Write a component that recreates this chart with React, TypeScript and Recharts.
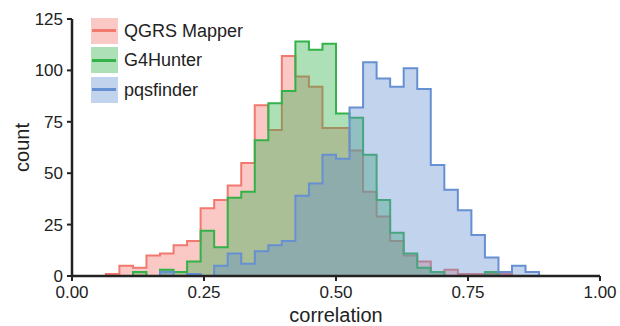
import { ComposedChart, Area, XAxis, YAxis } from "recharts";

// 40 bins centred on k/39 (k = 0..39), so edges sit half a bin either side
const binCount = 40;
const binWidth = 1 / 39;
const binEdges = Array.from({ length: binCount + 1 }, (_, i) => (i - 0.5) * binWidth);

const qgrsCounts = [
  0, 0, 0, 1, 5, 4, 10, 11, 15, 17, 33, 37, 44, 55, 83, 71, 107, 97, 92, 72,
  72, 61, 41, 29, 17, 10, 7, 2, 3, 1, 1, 1, 1, 0, 0, 0, 0, 0, 0, 0,
];
const g4hunterCounts = [
  0, 0, 0, 0, 0, 2, 0, 3, 2, 7, 22, 14, 38, 41, 66, 84, 90, 114, 110, 113,
  79, 77, 59, 37, 21, 11, 4, 2, 0, 0, 0, 2, 0, 0, 0, 0, 0, 0, 0, 0,
];
const pqsfinderCounts = [
  0, 0, 0, 0, 0, 0, 0, 2, 0, 1, 0, 5, 11, 6, 12, 15, 17, 39, 45, 59,
  57, 82, 104, 96, 92, 101, 91, 54, 42, 32, 20, 9, 2, 5, 2, 0, 0, 0, 0, 0,
];

const xTicks = [0, 0.25, 0.5, 0.75, 1];
const yTicks = [0, 25, 50, 75, 100, 125];

const series = [
  { key: "qgrs", name: "QGRS Mapper", color: "#F27970", counts: qgrsCounts },
  { key: "g4hunter", name: "G4Hunter", color: "#33B24A", counts: g4hunterCounts },
  { key: "pqsfinder", name: "pqsfinder", color: "#6690D2", counts: pqsfinderCounts },
];

// stepAfter: each left edge carries its bin count, the closing edge repeats the last bin
const data = binEdges.map((edge, i) => {
  const row: Record<string, number> = { x: edge };
  series.forEach((s) => {
    row[s.key] = s.counts[Math.min(i, binCount - 1)];
  });
  return row;
});

const FILL_OPACITY = 0.4;
const INK = "#222222";
const FONT = "'Liberation Sans', Arial, Helvetica, sans-serif";

function hexToRgba(hex: string, a: number) {
  const n = parseInt(hex.slice(1), 16);
  return `rgba(${(n >> 16) & 255}, ${(n >> 8) & 255}, ${n & 255}, ${a})`;
}

function LegendBox() {
  return (
    <div style={{ position: "absolute", left: 91, top: 16 }}>
      {series.map((s) => (
        <div
          key={s.key}
          style={{ display: "flex", alignItems: "center", height: 29.5 }}
        >
          <div
            style={{
              position: "relative",
              width: 27,
              height: 26,
              background: hexToRgba(s.color, FILL_OPACITY),
            }}
          >
            <div
              style={{
                position: "absolute",
                left: 1,
                right: 2,
                top: 11.5,
                height: 3,
                background: s.color,
              }}
            />
          </div>
          <span style={{ marginLeft: 6, fontSize: 18, color: INK, lineHeight: 1 }}>
            {s.name}
          </span>
        </div>
      ))}
    </div>
  );
}

export default function App() {
  return (
    <div
      style={{
        position: "absolute",
        left: 0,
        top: 0,
        width: 620,
        height: 326,
        background: "#ffffff",
        fontFamily: FONT,
      }}
    >
      <ComposedChart
        width={620}
        height={326}
        data={data}
        margin={{ top: 19, right: 20, bottom: 0, left: 12 }}
        style={{ fontFamily: FONT }}
      >
        {series.map((s) => (
          <Area
            key={s.key}
            type="stepAfter"
            dataKey={s.key}
            name={s.name}
            stroke={s.color}
            strokeWidth={2}
            fill={s.color}
            fillOpacity={FILL_OPACITY}
            dot={false}
            activeDot={false}
            isAnimationActive={false}
          />
        ))}

        <XAxis
          type="number"
          dataKey="x"
          domain={[0, 1]}
          allowDataOverflow
          ticks={xTicks}
          tickFormatter={(v: number) => v.toFixed(2)}
          height={50}
          tickSize={5}
          tickMargin={5}
          tick={{ fill: INK, fontSize: 17 }}
          axisLine={{ stroke: INK, strokeWidth: 2.5 }}
          tickLine={{ stroke: INK, strokeWidth: 2 }}
          label={{
            value: "correlation",
            position: "insideBottom",
            offset: 4,
            fill: INK,
            fontSize: 20,
          }}
        />
        <YAxis
          type="number"
          domain={[0, 125]}
          ticks={yTicks}
          width={60}
          tickSize={5}
          tickMargin={4}
          tick={{ fill: INK, fontSize: 17 }}
          axisLine={{ stroke: INK, strokeWidth: 2.5 }}
          tickLine={{ stroke: INK, strokeWidth: 2 }}
          label={{
            value: "count",
            angle: -90,
            position: "insideLeft",
            offset: 10,
            fill: INK,
            fontSize: 20,
            style: { textAnchor: "middle" },
          }}
        />
      </ComposedChart>
      <LegendBox />
    </div>
  );
}
